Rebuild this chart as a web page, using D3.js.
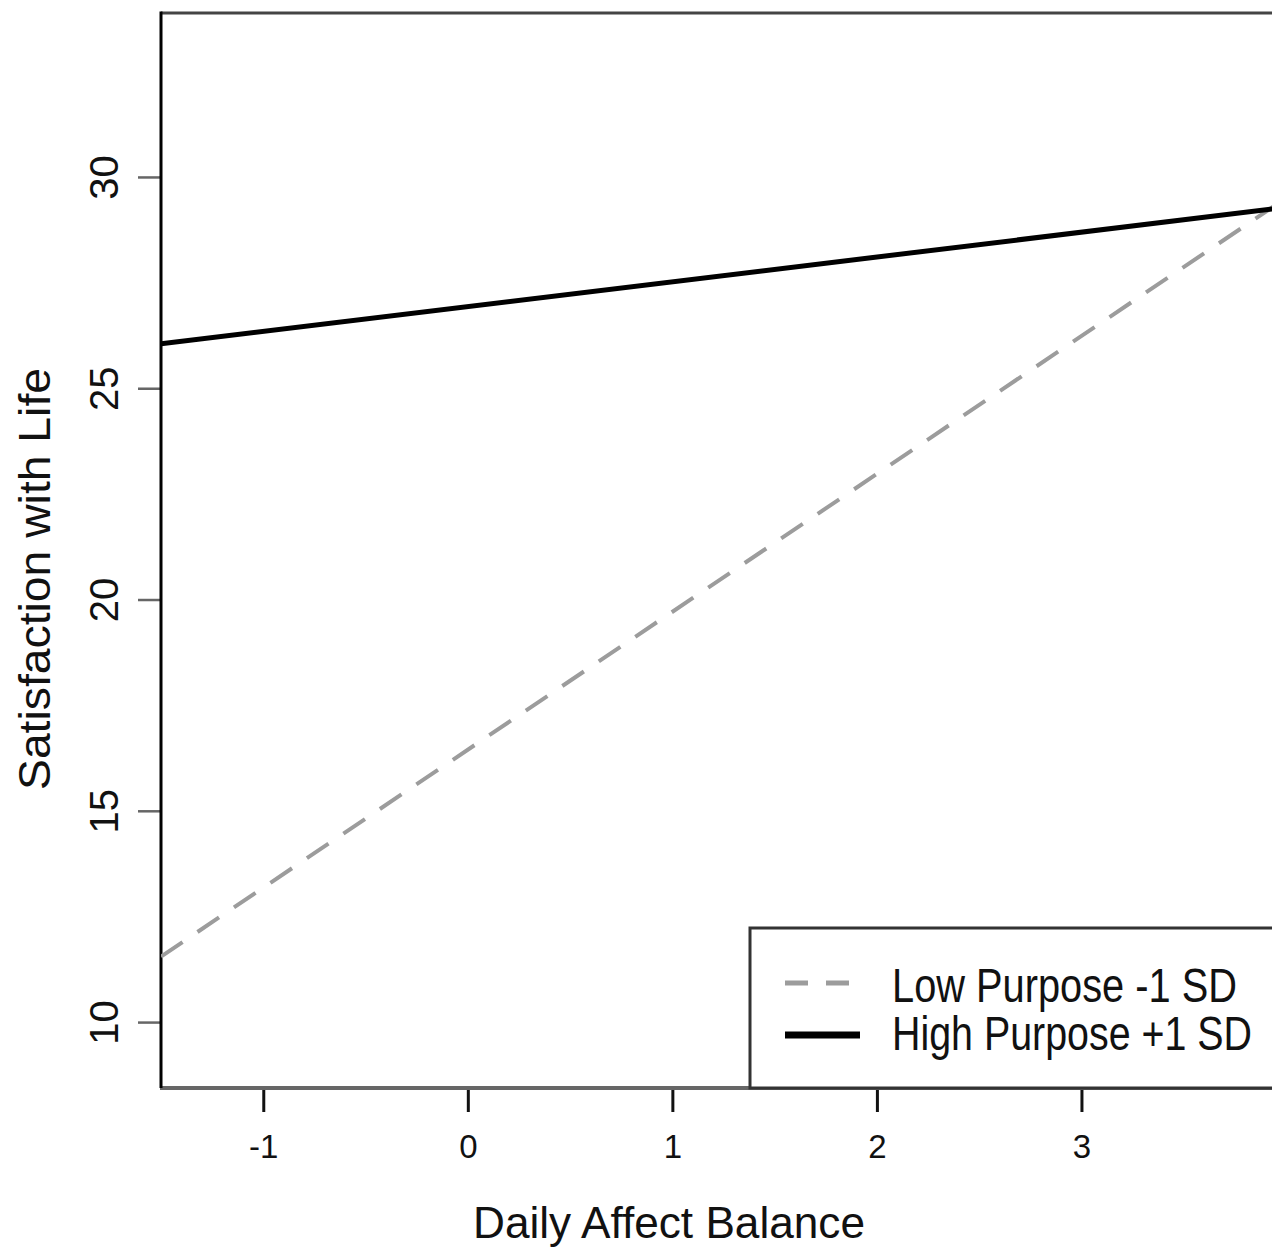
<!DOCTYPE html>
<meta charset="utf-8">

<style type="text/css">
    body { margin: 0; background: white; }
    svg text { font-family: "Liberation Sans", Arial, sans-serif; fill: #111; }
    .xaxis .tick line { stroke: #111; stroke-width: 3; }
    .yaxis .tick line { stroke: #666; stroke-width: 2.5; }
</style>

<body>

<script src="https://cdn.jsdelivr.net/npm/d3@7"></script>

<script>
    // values
    var affect      = [-1.5, 4.0];          // daily affect balance (x)
    var lowPurpose  = [11.55, 29.5];        // low purpose -1 SD
    var highPurpose = [26.05, 29.28];       // high purpose +1 SD
    var xTicks = [-1, 0, 1, 2, 3];
    var yTicks = [10, 15, 20, 25, 30];
    var seriesNames = ["Low Purpose -1 SD", "High Purpose +1 SD"];

    var w = 1272;
    var h = 1249;

    // plot box (right side runs past the picture edge)
    var pLeft = 161, pRight = 1286, pTop = 13, pBottom = 1088;

    var svg = d3.select("body")
                .append("svg")
                .attr("width", w)
                .attr("height", h);

    var x = d3.scaleLinear().domain([-1.5, 4]).range([pLeft, pRight]);
    var y = d3.scaleLinear().domain([8.44, 33.88]).range([pBottom, pTop]);

    // axes
    var xAxis = svg.append("g")
            .attr("class", "xaxis")
            .attr("transform", "translate(0," + pBottom + ")")
            .call(d3.axisBottom(x).tickValues(xTicks).tickSize(24).tickFormat(function(d) { return String(d); }));
    xAxis.select(".domain").remove();
    xAxis.selectAll("text")
            .attr("y", 70)
            .attr("dy", 0)
            .style("font-size", "33px")
            .attr("fill", "#111");

    var yAxis = svg.append("g")
            .attr("class", "yaxis")
            .attr("transform", "translate(" + pLeft + ",0)")
            .call(d3.axisLeft(y).tickValues(yTicks).tickSize(23));
    yAxis.select(".domain").remove();
    yAxis.selectAll("text")
            .attr("x", 0)
            .attr("dy", 0)
            .attr("text-anchor", "middle")
            .attr("transform", "translate(-43,0) rotate(-90)")
            .style("font-size", "40px")
            .attr("fill", "#111");

    // frame
    svg.append("line").attr("x1", pLeft).attr("x2", w).attr("y1", pTop).attr("y2", pTop)
            .attr("stroke", "#444").attr("stroke-width", 3);
    svg.append("line").attr("x1", pLeft - 1).attr("x2", w).attr("y1", pBottom).attr("y2", pBottom)
            .attr("stroke", "#666").attr("stroke-width", 4);
    svg.append("line").attr("x1", pLeft).attr("x2", pLeft).attr("y1", pTop - 1.5).attr("y2", pBottom)
            .attr("stroke", "#000").attr("stroke-width", 3);

    // lines
    var line = d3.line()
            .x(function(d, i) { return x(affect[i]); })
            .y(function(d) { return y(d); });

    svg.append("clipPath").attr("id", "plotclip")
            .append("rect").attr("x", pLeft).attr("y", pTop).attr("width", pRight - pLeft).attr("height", pBottom - pTop);

    svg.append("path")
            .datum(lowPurpose)
            .attr("d", line)
            .attr("clip-path", "url(#plotclip)")
            .attr("fill", "none")
            .attr("stroke", "#9c9c9c")
            .attr("stroke-width", 4)
            .attr("stroke-dasharray", "26,18");

    svg.append("path")
            .datum(highPurpose)
            .attr("d", line)
            .attr("clip-path", "url(#plotclip)")
            .attr("fill", "none")
            .attr("stroke", "#000")
            .attr("stroke-width", 5);

    // legend
    var legend = svg.append("g");
    legend.append("rect")
            .attr("x", 750).attr("y", 928)
            .attr("width", 600).attr("height", pBottom - 928)
            .attr("fill", "white")
            .attr("stroke", "#333")
            .attr("stroke-width", 3);
    legend.append("line")
            .attr("x1", 785).attr("x2", 852).attr("y1", 983).attr("y2", 983)
            .attr("stroke", "#9c9c9c").attr("stroke-width", 5)
            .attr("stroke-dasharray", "23,18");
    legend.append("line")
            .attr("x1", 785).attr("x2", 860).attr("y1", 1035).attr("y2", 1035)
            .attr("stroke", "#000").attr("stroke-width", 7);
    legend.selectAll("text.leg")
            .data(seriesNames)
            .enter()
            .append("text")
            .attr("class", "leg")
            .text(function(d) { return d; })
            .attr("transform", function(d, i) { return "translate(892," + (1002 + i * 48) + ") scale(1,1.2)"; })
            .attr("textLength", function(d, i) { return i == 0 ? 345 : 360; })
            .attr("lengthAdjust", "spacingAndGlyphs")
            .style("font-size", "40px");

    // axis titles
    svg.append("text")
            .text("Daily Affect Balance")
            .attr("x", 669)
            .attr("y", 1238)
            .attr("text-anchor", "middle")
            .attr("textLength", 392)
            .attr("lengthAdjust", "spacingAndGlyphs")
            .style("font-size", "45px");

    svg.append("text")
            .text("Satisfaction with Life")
            .attr("transform", "translate(50,579) rotate(-90)")
            .attr("text-anchor", "middle")
            .attr("textLength", 422)
            .attr("lengthAdjust", "spacingAndGlyphs")
            .style("font-size", "44px");
</script>

</body>
